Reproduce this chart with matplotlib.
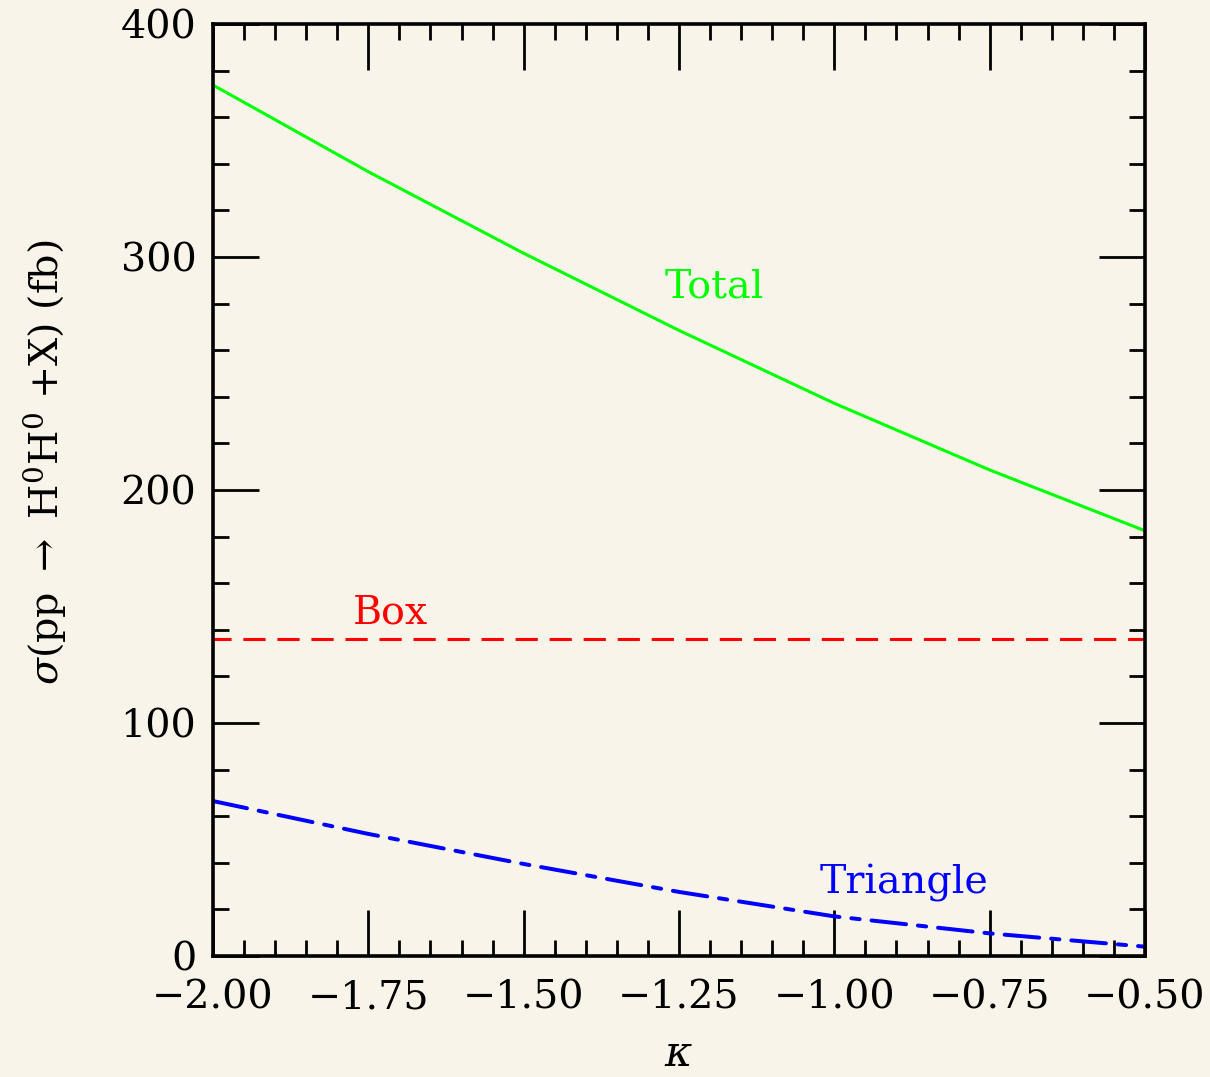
import matplotlib
matplotlib.use("Agg")
import matplotlib.pyplot as plt
from matplotlib.ticker import MultipleLocator, FormatStrFormatter

# ---- data ----
kappa = [-2.00, -1.75, -1.50, -1.25, -1.00, -0.75, -0.50]
total = [373.8, 336.6, 301.6, 268.5, 237.2, 208.6, 182.5]
box = [136.1, 136.1, 136.1, 136.1, 136.1, 136.1, 136.1]
triangle = [66.5, 52.4, 39.5, 27.5, 17.0, 9.7, 4.0]

xticks = [-2.00, -1.75, -1.50, -1.25, -1.00, -0.75, -0.50]
yticks = [0, 100, 200, 300, 400]

labels = ["Total", "Box", "Triangle"]
colors = ["#00ff00", "#ff0000", "#0000ff"]

bg = "#f8f4e9"
plt.rcParams["font.family"] = ["DejaVu Serif"]
plt.rcParams["mathtext.fontset"] = "dejavuserif"
plt.rcParams["lines.scale_dashes"] = False

W, H = 1210, 1077
fig = plt.figure(figsize=(W / 100, H / 100), dpi=100, facecolor=bg)
L, R, T, B = 213, 1145, 24, 956
ax = fig.add_axes([L / W, (H - B) / H, (R - L) / W, (B - T) / H])
ax.set_facecolor(bg)

lw = 2.2
ax.plot(kappa, total, color=colors[0], lw=lw, solid_capstyle="butt")
ax.plot(kappa, box, color=colors[1], lw=lw, linestyle=(3, (16, 8.5)), dash_capstyle="butt")
ax.plot(kappa, triangle, color=colors[2], lw=lw * 1.3,
        linestyle=(0, (25, 8.6, 6, 8.6)), dash_capstyle="round")

ax.text(-1.2725, 282.8, labels[0], color=colors[0], fontsize=28.5, ha="left", va="baseline")
ax.text(-1.7747, 142.9, labels[1], color=colors[1], fontsize=28.5, ha="left", va="baseline")
ax.text(-1.0231, 27.0, labels[2], color=colors[2], fontsize=28.5, ha="left", va="baseline")

ax.set_xlim(-2.0, -0.5)
ax.set_ylim(0, 400)
ax.set_xticks(xticks)
ax.set_yticks(yticks)
ax.xaxis.set_major_formatter(FormatStrFormatter("%.2f"))
ax.xaxis.set_minor_locator(MultipleLocator(0.05))
ax.yaxis.set_minor_locator(MultipleLocator(20))
ax.set_xticklabels([("\u2212%.2f" % abs(v)) for v in xticks])

for s in ax.spines.values():
    s.set_linewidth(2.6)
    s.set_color("black")

ax.tick_params(which="major", direction="in", length=33, width=2.0,
               top=True, right=True, labelsize=28.5, colors="black")
ax.tick_params(which="minor", direction="in", length=11.5, width=2.0,
               top=True, right=True)
ax.tick_params(axis="x", which="major", pad=17)
ax.tick_params(axis="y", which="major", pad=12)

ax.set_xlabel(r"$\kappa$", fontsize=30, labelpad=12)
fig.text(45 / W, 1 - 462 / H, r"$\sigma$(pp $\rightarrow$ H$^0$H$^0$ +X) (fb)",
         rotation=90, fontsize=28.5, ha="center", va="center")

fig.savefig("out.png", dpi=100, facecolor=bg)
